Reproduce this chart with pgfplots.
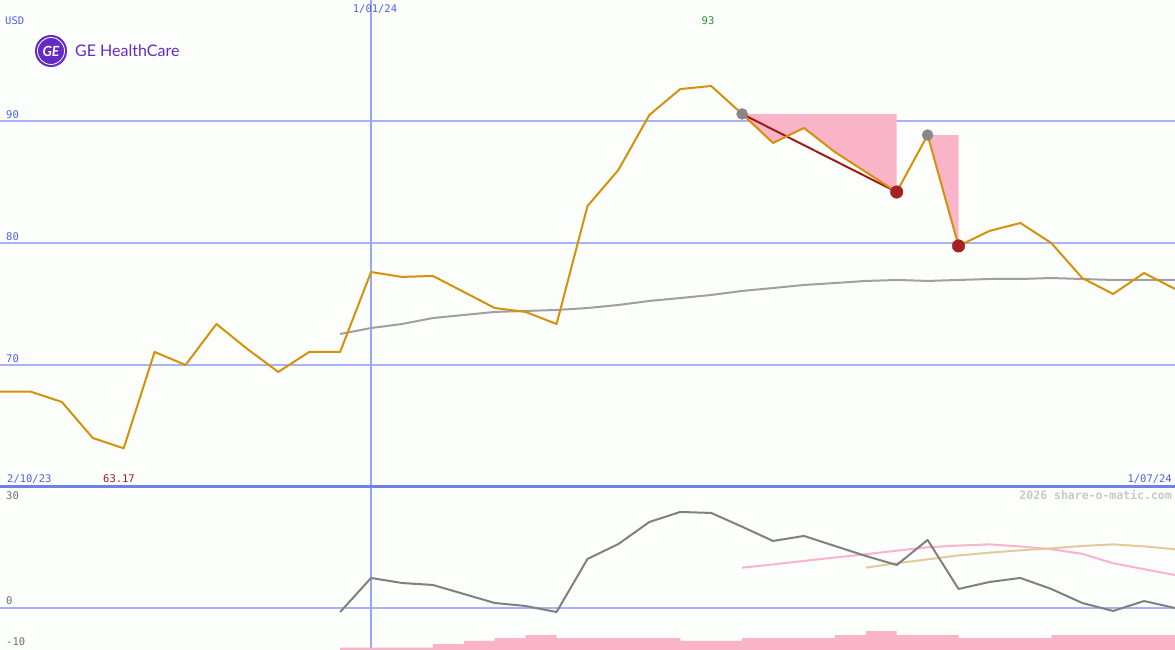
\documentclass[border=0pt]{standalone}
\usepackage{pgfplots}
\pgfplotsset{compat=1.18}
\usepackage{fontspec}
\setmainfont{DejaVu Sans Mono}
\newfontfamily\logofont{Lato}

\definecolor{bgc}{RGB}{252,254,252}
\definecolor{gridblue}{RGB}{168,178,244}
\definecolor{vlineblue}{RGB}{150,166,248}
\definecolor{sepblue}{RGB}{112,128,232}
\definecolor{tickblue}{RGB}{80,96,230}
\definecolor{price}{RGB}{212,145,10}
\definecolor{magray}{RGB}{160,160,160}
\definecolor{oscgray}{RGB}{128,128,128}
\definecolor{pinkfill}{RGB}{250,180,200}
\definecolor{tanline}{RGB}{226,202,155}
\definecolor{darkred}{RGB}{160,28,28}
\definecolor{dotred}{RGB}{165,34,34}
\definecolor{dotgray}{RGB}{136,136,136}
\definecolor{gepurple}{RGB}{102,42,196}
\definecolor{maxgreen}{RGB}{40,150,40}
\definecolor{wmgray}{RGB}{200,200,200}
\definecolor{lowtick}{RGB}{110,110,110}

\pgfplotsset{
  panel/.style={
    scale only axis, width=1175pt,
    xmin=0, xmax=38,
    axis line style={draw=none},
    major tick length=0pt,
    xtick=\empty,
    ymajorgrids,
    major grid style={gridblue, line width=2pt},
    /pgf/number format/assume math mode=true,
    yticklabel style={anchor=south west, inner sep=0pt, xshift=6pt, yshift=2.5pt,
      font=\fontsize{10.5}{12}\selectfont},
  },
}

\begin{document}
\begin{tikzpicture}
\fill[bgc] (0,0) rectangle (1175pt,650pt);

% price panel
\begin{axis}[panel, at={(0,163pt)}, anchor=south west, height=487pt,
  ymin=60, ymax=99.92, ytick={70,80,90},
  yticklabel style={text=tickblue}]
\addplot[vlineblue, line width=1.2pt] coordinates {(12,60) (12,99.92)};
% drawdown areas
\addplot[fill=pinkfill, draw=none] coordinates {
  (24,90.58) (29,90.58) (29,84.18) (28,85.82) (27,87.46) (26,89.43) (25,88.20)} -- cycle;
\addplot[fill=pinkfill, draw=none] coordinates {
  (30,88.85) (31,88.85) (31,79.76)} -- cycle;
% moving average
\addplot[magray, line width=2pt] coordinates {
  (11,72.54) (12,73.03) (13,73.36) (14,73.85) (15,74.10) (16,74.35) (17,74.43)
  (18,74.51) (19,74.67) (20,74.92) (21,75.25) (22,75.49) (23,75.74) (24,76.07)
  (25,76.31) (26,76.56) (27,76.72) (28,76.89) (29,76.97) (30,76.89) (31,76.97)
  (32,77.05) (33,77.05) (34,77.13) (35,77.05) (36,76.97) (37,76.97) (38,76.97)};
% markers
\addplot[only marks, mark=*, mark size=5.5pt, dotgray] coordinates {(24,90.58) (30,88.85)};
\addplot[only marks, mark=*, mark size=6.3pt, dotred] coordinates {(29,84.18) (31,79.76)};
\addplot[darkred, line width=2pt] coordinates {(24,90.58) (29,84.18)};
% price
\addplot[price, line width=2pt, line join=round] coordinates {
  (0,67.81) (1,67.81) (2,66.97) (3,64.02) (4,63.17) (5,71.07) (6,70.00) (7,73.36)
  (8,71.31) (9,69.43) (10,71.07) (11,71.07) (12,77.62) (13,77.22) (14,77.30)
  (15,75.99) (16,74.67) (17,74.35) (18,73.36) (19,83.03) (20,85.99) (21,90.49)
  (22,92.62) (23,92.87) (24,90.58) (25,88.20) (26,89.43) (27,87.46) (28,85.82)
  (29,84.18) (30,88.85) (31,79.76) (32,80.99) (33,81.64) (34,80.00) (35,77.13)
  (36,75.82) (37,77.54) (38,76.23)};
\end{axis}

% lower panel
\begin{axis}[panel, at={(0,0)}, anchor=south west, height=163pt,
  ymin=-10.76, ymax=30.7, ytick={0},
  yticklabel style={text=lowtick}]
\addplot[vlineblue, line width=1.2pt] coordinates {(12,-10.76) (12,30.7)};
\addplot[fill=pinkfill, draw=none] coordinates {
  (11,-10.76) (11,-10.18) (14,-10.18) (14,-9.24) (15,-9.24) (15,-8.47) (16,-8.47)
  (16,-7.71) (17,-7.71) (17,-6.95) (18,-6.95) (18,-7.71) (22,-7.71) (22,-8.47)
  (24,-8.47) (24,-7.71) (27,-7.71) (27,-6.95) (28,-6.95) (28,-5.93) (29,-5.93)
  (29,-6.95) (31,-6.95) (31,-7.71) (34,-7.71) (34,-6.95) (38,-6.95) (38,-10.76)} -- cycle;
\addplot[pinkfill, line width=2pt] coordinates {
  (24,10.18) (25,11.0) (26,11.9) (27,12.75) (28,13.6) (29,14.5) (30,15.37)
  (31,15.8) (32,16.1) (33,15.57) (34,14.86) (35,13.7) (36,11.3) (37,9.8) (38,8.3)};
\addplot[tanline, line width=2pt] coordinates {
  (28,10.18) (29,11.3) (30,12.3) (31,13.3) (32,14.0) (33,14.6) (34,15.1)
  (35,15.7) (36,16.1) (37,15.6) (38,14.86)};
\addplot[oscgray, line width=2pt, line join=round] coordinates {
  (11,-1.1) (12,7.56) (13,6.28) (14,5.78) (15,3.49) (16,1.2) (17,0.43) (18,-1.1)
  (19,12.39) (20,16.2) (21,21.8) (22,24.35) (23,24.1) (24,20.6) (25,16.97)
  (26,18.25) (27,15.7) (28,13.16) (29,10.86) (30,17.23) (31,4.76) (32,6.54)
  (33,7.56) (34,4.76) (35,1.2) (36,-0.84) (37,1.7) (38,-0.08)};
\end{axis}

\draw[sepblue, line width=3pt] (0,163pt) -- (1175pt,163pt);

% texts
\begin{scope}[every node/.style={inner sep=0pt, font=\fontsize{10.5}{12}\selectfont}]
\node[anchor=base west, text=tickblue] at (5pt,625pt) {USD};
\node[anchor=base, text=tickblue] at (375pt,637pt) {1/01/24};
\node[anchor=base, text=maxgreen] at (708pt,625pt) {93};
\node[anchor=base west, text=tickblue] at (7pt,167pt) {2/10/23};
\node[anchor=base west, text=darkred] at (103pt,167pt) {63.17};
\node[anchor=base east, text=tickblue] at (1172pt,167pt) {1/07/24};
\node[anchor=base west, text=lowtick] at (6pt,150pt) {30};
\node[anchor=base west, text=lowtick] at (6pt,4pt) {-10};
\node[anchor=base east, text=wmgray, font=\bfseries\fontsize{11.5}{13}\selectfont] at (1172pt,150pt) {2026 share-o-matic.com};
\end{scope}

% logo
\fill[gepurple] (51pt,599pt) circle (16pt);
\draw[white, line width=0.8pt] (51pt,599pt) circle (13.5pt);
\node[text=white, inner sep=0pt, font=\logofont\bfseries\itshape\fontsize{14}{14}\selectfont] at (51pt,599pt) {GE};
\node[anchor=base west, inner sep=0pt, text=gepurple, font=\logofont\fontsize{16}{18}\selectfont] at (75pt,593pt) {GE HealthCare};

\pgfresetboundingbox
\path[use as bounding box] (0,0) rectangle (1175pt,650pt);
\end{tikzpicture}
\end{document}
